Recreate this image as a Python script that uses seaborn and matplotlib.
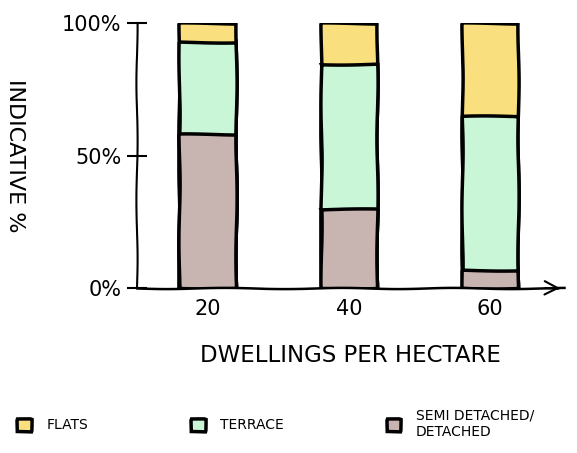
import numpy as np
import pandas as pd
import matplotlib
matplotlib.use("Agg")
import matplotlib.pyplot as plt
from matplotlib.patches import Patch
import seaborn as sns

categories = ["20", "40", "60"]
semi_detached = [58, 30, 7]
terrace = [35, 54.5, 58]
flats = [7, 15.5, 35]

series_names = ["FLATS", "TERRACE", "SEMI DETACHED/\nDETACHED"]
colors = {"FLATS": "#FADF7E", "TERRACE": "#C9F6D6", "SEMI DETACHED/\nDETACHED": "#C8B5B2"}

sns.set_style("white")
plt.xkcd(scale=0.6, length=120, randomness=1.5)
plt.rcParams["font.family"] = ["DejaVu Sans"]
plt.rcParams["path.effects"] = []
plt.rcParams["text.color"] = "black"
plt.rcParams["axes.labelcolor"] = "black"
plt.rcParams["xtick.color"] = "black"
plt.rcParams["ytick.color"] = "black"

semi_arr = np.array(semi_detached, dtype=float)
ter_arr = semi_arr + np.array(terrace, dtype=float)
flat_arr = ter_arr + np.array(flats, dtype=float)

df = pd.DataFrame({
    "density": categories,
    "top_flats": flat_arr,
    "top_terrace": ter_arr,
    "top_semi": semi_arr,
})

fig = plt.figure(figsize=(5.77, 4.53), dpi=100)
ax = fig.add_axes([0.237, 0.364, 0.74, 0.585])

for col, name in [("top_flats", "FLATS"), ("top_terrace", "TERRACE"),
                  ("top_semi", "SEMI DETACHED/\nDETACHED")]:
    sns.barplot(data=df, x="density", y=col, order=categories, color=colors[name],
                saturation=1, width=0.4, edgecolor="black", linewidth=2.5, ax=ax)

ax.set_xlim(-0.5, 2.52)
ax.set_ylim(0, 100)
ax.set_yticks([0, 50, 100])
ax.set_yticklabels(["0%", "50%", "100%"])
ax.tick_params(axis="y", left=True, direction="inout", length=14, width=1.5,
               labelsize=15, pad=4, colors="black")
ax.tick_params(axis="x", length=0, labelsize=15, pad=8, colors="black")
for s in ["top", "right"]:
    ax.spines[s].set_visible(False)
ax.spines["left"].set_linewidth(1.5)
ax.spines["bottom"].set_linewidth(1.8)
ax.spines["left"].set_color("black")
ax.spines["bottom"].set_color("black")
ax.annotate("", xy=(1.0, 0), xytext=(0.95, 0), xycoords="axes fraction",
            arrowprops=dict(arrowstyle="->", lw=1.5, color="black", mutation_scale=25))

ax.set_xlabel("DWELLINGS PER HECTARE", fontsize=16.5, labelpad=18, color="black")
ax.set_ylabel("INDICATIVE %", fontsize=16, rotation=270, va="center", color="black")
ax.yaxis.set_label_coords(-0.285, 0.5)

handles = [Patch(facecolor=colors[n], edgecolor="black", linewidth=2.5) for n in series_names]
fig.legend(handles, series_names, loc="upper left", bbox_to_anchor=(0.008, 0.125),
           ncol=3, frameon=False, fontsize=10, handlelength=1.0, handleheight=1.0,
           columnspacing=7.4, handletextpad=1.1, labelcolor="black")

fig.savefig("out.png", dpi=100)
